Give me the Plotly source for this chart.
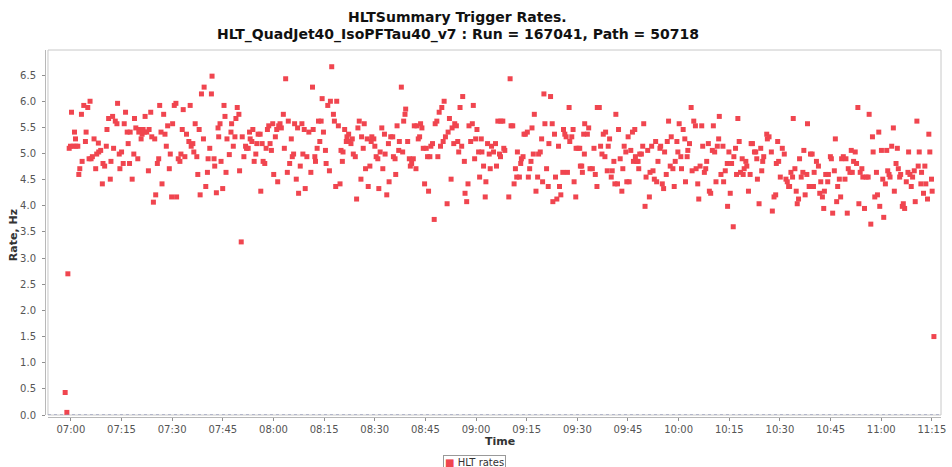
import pandas as pd
import plotly.graph_objects as go

RUN_START = pd.Timestamp("2011-06-02 07:00:00")

# Minutes after 07:00 for each lumi-section sample
MINUTES = [
    -1.68, -1.18, -0.88,
    -0.49, -0.10, 0.20, 0.69, 1.08, 1.37, 1.47, 2.06, 2.36, 2.65, 3.14, 3.34, 3.83, 4.32, 4.52, 5.01,
    5.40, 5.69, 5.99, 6.38, 6.87, 7.36, 7.66, 8.15, 8.25, 8.84, 9.33, 9.52, 10.01, 10.50, 10.70, 11.19,
    11.68, 11.88, 12.37, 12.66, 13.16, 13.65, 13.84, 14.33, 14.53, 15.02, 15.51, 15.81, 16.20, 16.69,
    16.98, 17.38, 17.57, 18.16, 18.65, 18.85, 19.24, 19.83, 20.13, 20.32, 20.81, 21.11, 21.40, 21.80,
    21.99, 22.48, 22.97, 23.17, 23.66, 23.96, 24.45, 24.84, 25.13, 25.62, 26.02, 26.31, 26.70, 27.00,
    27.49, 27.88, 28.27, 28.67, 29.16, 29.45, 29.85, 30.14, 30.63, 31.12, 31.32, 31.81, 32.30, 32.60,
    32.99, 33.28, 33.77, 34.26, 34.95, 35.34, 35.64, 36.13, 36.42, 36.82, 37.31, 37.60, 38.00, 38.29,
    38.68, 39.27, 39.47, 39.96, 40.45, 40.65, 41.14, 41.63, 41.82, 42.41, 42.61, 43.10, 43.59, 43.79,
    44.18, 44.48, 44.97, 45.36, 45.65, 45.95, 46.24,
    46.93, 47.42, 47.61, 48.11, 48.60, 48.89, 49.28, 49.77, 49.97, 50.46, 50.76, 51.25, 51.74, 52.03,
    52.52, 52.92, 53.11, 53.60, 53.90, 54.29, 54.78, 55.08, 55.47, 56.06, 56.25, 56.65, 56.94, 57.43,
    57.83, 58.22, 58.61, 59.00, 59.40, 59.79, 60.08, 60.57, 60.97, 61.26, 61.56, 61.95, 62.34, 62.93,
    63.23, 63.62, 64.11, 64.40, 64.80, 65.29, 65.58, 65.97, 66.27, 66.76, 67.15, 67.45, 67.94, 68.43,
    68.72, 69.12, 69.41, 69.90, 70.49, 71.08, 71.57, 71.77, 72.26, 72.45, 72.94, 73.34, 73.73, 74.12,
    74.42, 74.81, 75.40, 75.60, 76.09, 76.58, 76.87, 77.26, 77.76, 78.05, 78.44, 78.74, 79.23, 79.72,
    80.01, 80.41, 80.60, 81.09, 81.58, 81.78, 82.27, 82.37, 82.96, 83.35, 83.65, 84.24, 84.63, 85.02,
    85.41, 85.91, 86.10, 86.59, 86.89, 87.28, 87.77, 88.07, 88.56, 88.95, 89.14, 89.73, 90.03, 90.42,
    90.91, 91.21, 91.60, 92.09, 92.39, 92.88, 93.07, 93.56, 94.05, 94.25, 94.74, 95.33, 95.53, 96.02,
    96.21, 96.61, 97.10, 97.29, 97.88, 98.27, 98.57, 98.96, 99.16,
    99.75, 100.24, 100.54, 100.93, 101.42, 101.71, 102.21, 102.50, 102.89, 103.29, 103.58, 103.97,
    104.37, 104.76, 105.25, 105.64, 105.94, 106.33, 106.62, 107.11, 107.61, 107.90, 108.39, 108.69,
    109.08, 109.47, 109.86, 110.26, 110.55, 110.94, 111.43, 111.73, 112.12, 112.61, 112.91, 113.40,
    113.69, 114.18, 114.58, 114.87, 115.26, 115.75, 116.05, 116.54, 116.74, 117.23, 117.62, 117.91,
    118.41, 118.90, 119.19, 119.58, 119.88, 120.27, 120.76, 121.06, 121.55, 121.74, 122.23, 122.72,
    122.92, 123.41, 123.90, 124.20, 124.59, 125.18, 125.77, 126.06, 126.46, 126.95, 127.24, 127.34,
    127.93, 128.22, 128.52, 129.70, 130.09, 130.38, 130.87, 131.27, 131.66, 132.05, 132.25, 132.84,
    133.23, 133.43, 133.92, 134.21, 134.60, 135.19, 135.49, 135.88, 136.27, 136.57, 136.96, 137.26,
    137.75, 138.24, 138.53, 139.02, 139.42, 139.71, 140.10, 140.40, 140.89, 141.38, 141.58, 142.07,
    142.56, 142.75, 143.24, 143.54, 143.93, 144.42, 144.72, 145.11, 145.70, 145.90, 146.29, 146.68,
    147.07, 147.56, 147.76, 148.35, 148.74, 149.04, 149.53, 149.63, 150.22, 150.71, 150.90, 151.30,
    151.49, 151.88, 152.08, 152.18,
    152.97, 153.36, 153.75, 154.44, 154.93, 155.32, 155.81, 155.91, 156.50, 156.89, 157.29, 157.68,
    158.17, 158.37, 158.86, 159.15, 159.55, 160.04, 160.33, 160.82, 161.12, 161.41, 161.90, 162.20,
    162.69, 163.18, 163.47, 163.87, 164.36, 164.65, 165.04, 165.34, 165.83, 166.32, 166.61, 167.01,
    167.20, 167.60, 167.99, 168.19, 168.48, 168.97, 169.36, 169.66, 170.05, 170.35, 170.84, 171.33,
    171.52, 172.01, 172.41, 172.80, 173.19, 173.49, 173.88, 174.47, 174.67, 175.16, 175.55, 175.84,
    176.33, 176.63, 177.02, 177.51, 177.81, 178.30, 178.69, 178.99, 179.48, 179.77, 180.16, 180.65,
    180.85, 181.34, 181.83, 182.03, 182.52, 182.72, 183.21, 183.70, 183.99, 184.48, 184.97, 185.17,
    185.66, 185.96, 186.35, 186.84, 187.13, 187.62, 188.02, 188.31, 188.80, 189.10, 189.49, 189.98,
    190.28, 190.67, 191.06, 191.45, 191.85, 192.04, 192.53, 193.12, 193.32, 193.81, 194.40, 194.50,
    194.89, 195.28, 195.68, 196.17, 196.36, 196.85, 197.15, 197.54, 197.93, 198.33, 198.82, 199.11,
    199.41, 199.90, 200.19, 200.68, 201.17, 201.47, 201.86, 202.45, 202.84, 203.14, 203.33, 203.82,
    204.31, 204.61, 204.90, 205.20,
    206.09, 206.28, 206.77, 207.46, 207.75, 208.25, 208.74, 208.93, 209.33, 209.62, 210.11, 210.70,
    211.29, 211.78, 212.17, 212.57, 212.86, 213.25, 213.74, 213.94, 214.43, 214.82, 215.12, 215.51,
    215.81, 216.30, 216.79, 217.08, 217.47, 217.97, 218.16, 218.65, 219.05, 219.54, 219.93, 220.13,
    220.81, 221.40, 221.79, 222.09, 222.58, 222.97, 223.17, 223.56, 224.15, 224.35, 224.94, 225.23,
    225.62, 226.11, 226.41, 226.80, 227.10, 227.59, 227.98, 228.27, 228.77, 229.26, 229.55, 229.94,
    230.24, 230.73, 231.12, 231.42, 231.81, 232.30, 232.69, 233.08, 233.38, 233.77, 234.26, 234.56,
    235.05, 235.54, 236.13, 236.42, 236.91, 237.40, 237.60, 238.09, 238.58, 238.88, 239.27, 239.56,
    240.06, 240.45, 240.74, 241.23, 241.63, 241.92, 242.31, 242.61, 243.10, 243.59, 243.88, 244.38,
    244.77, 245.06, 245.46, 245.75, 246.24, 246.54, 246.93, 247.42, 247.91, 248.11, 248.50, 248.89,
    249.29, 249.78, 250.07, 250.56, 250.95, 251.25, 251.74, 251.94, 252.52, 252.92, 253.21, 253.70,
    254.10, 254.39, 254.88, 255.08, 255.60,
]

# Trigger rate per sample, Hz
RATE_HZ = [
    0.43, 0.05, 2.70,
    5.10, 5.14, 5.79, 5.14, 5.41, 5.28, 5.14, 5.14, 4.60, 4.71, 5.75, 4.85, 5.92, 5.23, 5.41, 5.88,
    4.90, 6.00, 4.90, 4.94, 5.28, 4.71, 4.99, 5.20, 5.03, 5.06, 4.42, 4.81, 4.76, 5.14, 5.46, 5.67,
    4.51, 4.85, 5.71, 5.10, 5.62, 5.57, 5.96, 4.99, 4.71, 5.03, 4.81, 5.57, 5.79, 5.41,
    5.19, 4.81, 5.41, 4.51, 4.99, 5.67, 5.49, 4.90, 5.41, 5.46, 5.28, 5.37, 5.46, 5.41,
    5.71, 5.41, 4.67, 5.46, 5.79, 5.32, 4.07, 5.28, 4.21, 4.81, 4.90, 5.92, 5.41, 4.42,
    5.75, 5.37, 5.14, 5.53, 4.71, 4.99, 4.17, 5.57, 5.92, 5.96, 4.17, 4.90, 4.85, 4.99,
    5.46, 5.84, 4.94, 5.37, 5.23, 5.92, 5.14, 5.19, 5.03, 5.57, 4.94, 4.60, 5.46, 4.21,
    6.14, 5.28, 6.27, 4.37, 4.64, 4.90, 5.10, 6.14, 6.48, 4.90, 4.76, 4.25, 5.49, 5.32,
    5.57, 4.85, 4.33, 5.92, 5.71, 4.64, 5.28,
    4.98, 5.41, 5.57, 5.14, 5.32, 5.67, 5.88, 5.75, 4.67, 3.31, 5.32, 4.94, 5.14, 5.10,
    5.10, 5.41, 5.28, 5.23, 5.46, 4.85, 4.99, 5.19, 5.37, 5.37, 4.28, 5.19, 4.85, 4.81,
    5.10, 5.46, 5.53, 5.19, 5.06, 5.57, 4.60, 5.32, 5.46, 4.46, 5.53, 5.57, 5.49, 5.75,
    5.10, 6.43, 4.64, 5.62, 4.81, 5.28, 4.94, 4.99, 5.57, 4.51, 5.49, 4.24, 4.76, 5.57,
    4.99, 5.46, 4.33, 4.94, 5.41, 4.64, 6.27, 5.46, 4.94, 4.85, 5.10, 5.62, 5.23, 5.62,
    6.05, 5.41, 5.06, 4.81, 5.92, 4.67, 6.00, 6.66, 5.75, 5.62, 4.37, 6.00, 5.53, 4.42,
    5.06, 4.85, 5.03, 5.46, 5.23, 5.32, 5.37, 5.23, 5.19, 5.28, 4.99, 4.94, 4.13, 5.49,
    5.62, 4.51, 5.32, 5.10, 5.57, 4.71, 5.28, 4.37, 4.76, 5.23, 5.32, 5.28, 5.14, 4.94,
    4.90, 4.33, 5.03, 5.49, 4.71, 5.37, 4.99, 4.21, 5.19, 4.46, 5.32, 5.32, 4.94, 4.90,
    4.60, 5.53, 5.06, 5.23, 6.27, 5.03, 5.62, 5.75, 5.85,
    5.23, 4.90, 4.76, 4.81, 4.90, 5.53, 4.71, 5.53, 5.28, 5.32, 5.57, 5.49,
    5.10, 4.42, 5.10, 4.94, 4.28, 4.94, 5.14, 5.19, 3.74, 5.57, 5.62, 4.94,
    5.79, 5.14, 5.88, 5.23, 6.00, 5.32, 4.04, 5.41, 5.67, 4.51, 5.49, 5.19,
    5.57, 5.53, 5.23, 5.03, 5.88, 5.14, 6.09, 4.85, 4.24, 4.08, 4.42, 5.53,
    5.23, 5.57, 5.92, 4.90, 5.28, 5.46, 5.03, 4.55, 5.28, 5.03, 4.76, 4.17,
    4.46, 5.19, 4.99, 4.71, 5.14, 5.03, 5.19, 4.76, 5.62, 4.99, 4.94, 5.62,
    5.62, 5.10, 5.06, 4.17, 6.43, 5.53, 5.53, 4.42, 4.71, 4.55, 5.03, 4.55,
    4.81, 4.90, 4.94, 5.37, 5.37, 5.41, 4.55, 4.71, 4.85, 5.49, 4.99, 5.75,
    4.28, 4.55, 4.99, 5.03, 5.28, 4.46, 6.14, 5.57, 4.71, 4.37, 5.19, 6.09,
    5.57, 4.08, 5.37, 4.55, 4.13, 5.14, 4.37, 4.21, 4.64, 5.46, 5.37, 5.32,
    4.64, 5.88, 5.23, 5.32, 5.46, 4.46, 4.17, 5.10, 5.10, 5.10, 4.76, 4.76,
    4.64, 5.37, 4.99, 5.57,
    5.37, 5.49, 4.71, 4.71, 5.10, 4.60, 4.37, 5.88, 5.88, 5.14, 4.99, 5.37,
    4.94, 5.41, 4.67, 5.14, 5.28, 4.55, 4.67, 4.85, 4.42, 5.75, 4.42, 5.46,
    4.90, 4.28, 4.71, 5.14, 5.03, 4.46, 5.32, 4.46, 5.06, 5.41, 4.85, 5.46,
    4.94, 4.85, 4.85, 4.71, 4.99, 4.99, 5.14, 5.57, 3.99, 4.55, 5.06, 4.17,
    4.64, 5.14, 4.67, 4.51, 5.23, 4.46, 4.85, 5.10, 5.14, 4.42, 4.33, 5.03,
    4.60, 5.23, 5.62, 4.76, 5.32, 4.71, 4.37, 4.85, 5.23, 5.03, 5.57, 4.94,
    4.71, 5.46, 5.28, 4.46, 4.94, 5.06, 5.19, 5.88, 4.67, 5.62, 5.53, 4.71,
    4.42, 4.13, 4.76, 5.53, 5.14, 4.64, 4.71, 4.85, 5.19, 4.28, 4.24, 5.06,
    5.53, 5.03, 4.46, 5.14, 5.28, 5.71, 4.60, 5.14, 4.46, 4.67, 4.81, 3.99,
    5.03, 4.24, 4.81, 3.60, 4.94, 5.10, 4.60, 5.67, 5.23, 4.64, 4.90, 4.60,
    4.71, 4.85, 4.76, 4.28, 4.60, 5.19, 5.19, 5.03, 5.03, 4.90, 4.51, 4.04,
    5.10, 4.67, 4.85, 4.94,
    5.37, 5.28, 5.32, 5.03, 3.90, 4.17, 4.21, 4.81, 5.23, 4.85, 4.55, 5.10,
    4.99, 4.51, 4.46, 4.37, 4.37, 4.64, 4.55, 5.67, 4.71, 4.28, 4.04, 4.13,
    4.90, 4.55, 4.64, 5.06, 4.21, 4.60, 5.57, 4.37, 4.99, 4.99, 4.37, 4.64,
    4.85, 4.76, 4.24, 4.46, 4.17, 3.95, 4.28, 4.60, 4.46, 4.60, 4.94, 4.90,
    3.86, 4.67, 5.28, 4.08, 4.37, 4.51, 4.17, 4.90, 4.94, 4.51, 4.90, 3.86,
    4.71, 4.64, 5.06, 4.64, 4.85, 5.03, 4.81, 5.88, 4.04, 4.64, 4.71, 4.55,
    3.95, 4.55, 4.55, 5.75, 3.65, 5.32, 5.03, 4.17, 4.64, 4.21, 5.41, 3.99,
    5.06, 4.51, 3.78, 4.42, 5.06, 4.67, 4.60, 4.55, 5.14, 5.49, 4.28, 4.81,
    5.10, 4.71, 4.55, 4.60, 3.99, 4.04, 3.95, 4.46, 4.64, 5.03, 4.60, 4.37,
    4.55, 4.67, 4.08, 5.62, 4.76, 5.03, 4.42, 4.64, 4.24, 4.76, 4.42, 4.13,
    5.37, 5.03, 4.51, 4.28, 1.50,
]

TITLE_LINES = [
    "HLTSummary Trigger Rates.",
    "HLT_QuadJet40_IsoPFTau40_v7 : Run = 167041, Path = 50718",
]
SERIES_NAME = "HLT rates"
Y_TICKS = [0.0, 0.5, 1.0, 1.5, 2.0, 2.5, 3.0, 3.5, 4.0, 4.5, 5.0, 5.5, 6.0, 6.5]

MARKER_RED = "#f0454f"
FONT = "DejaVu Sans"

times = RUN_START + pd.to_timedelta(MINUTES, unit="min")

fig = go.Figure()
fig.add_trace(go.Scatter(
    x=times, y=RATE_HZ, mode="markers", name=SERIES_NAME,
    marker=dict(symbol="square", size=5, color=MARKER_RED, line=dict(width=0)),
    cliponaxis=False, showlegend=False,
))

x_lo = RUN_START - pd.Timedelta(minutes=6.77)
x_hi = RUN_START + pd.Timedelta(minutes=257.7)

fig.update_layout(
    width=952, height=467,
    margin=dict(l=45, r=6, t=50, b=50),
    paper_bgcolor="white", plot_bgcolor="white",
    font=dict(family=FONT, size=10, color="#555555"),
    xaxis=dict(
        domain=[3 / 901, 1], anchor="free", position=0,
        range=[x_lo, x_hi], type="date",
        tick0=RUN_START, dtick=15 * 60 * 1000, tickformat="%H:%M",
        showgrid=False, zeroline=False,
        showline=True, linecolor="#b8b8b8", linewidth=1,
        ticks="outside", ticklen=3, tickcolor="#909090",
        tickfont=dict(size=10, color="#555555"),
    ),
    yaxis=dict(
        domain=[2 / 367, 1], anchor="free", position=0,
        range=[0, 6.98], tickvals=Y_TICKS, ticktext=[f"{v:.1f}" for v in Y_TICKS],
        showgrid=False, zeroline=False,
        showline=True, linecolor="#b8b8b8", linewidth=1,
        ticks="outside", ticklen=3, tickcolor="#909090",
        tickfont=dict(size=10, color="#555555"),
        ticklabelstandoff=4,
    ),
)

# plot outline and zero reference line
fig.add_shape(type="rect", xref="x domain", yref="y domain", x0=0, x1=1, y0=0, y1=1,
              line=dict(color="#c8c8c8", width=1), layer="below")
fig.add_shape(type="line", xref="x domain", yref="y", x0=0, x1=1, y0=0, y1=0,
              line=dict(color="#8088b0", width=1, dash="dot"))

# two-line bold title
fig.add_annotation(text=f"<b>{TITLE_LINES[0]}</b>", xref="paper", yref="paper",
                   x=(460 - 45) / 901, y=1 + 33 / 367, xanchor="center", yanchor="middle",
                   showarrow=False, font=dict(family=FONT, size=14, color="#111111"))
fig.add_annotation(text=f"<b>{TITLE_LINES[1]}</b>", xref="paper", yref="paper",
                   x=(460 - 45) / 901, y=1 + 15 / 367, xanchor="center", yanchor="middle",
                   showarrow=False, font=dict(family=FONT, size=14, color="#111111"))

# axis titles
fig.add_annotation(text="<b>Rate, Hz</b>", xref="paper", yref="paper",
                   x=-32 / 901, y=(417 - 235) / 367, textangle=-90,
                   xanchor="center", yanchor="middle", showarrow=False,
                   font=dict(family=FONT, size=11, color="#333333"))
fig.add_annotation(text="<b>Time</b>", xref="paper", yref="paper",
                   x=(503 - 45) / 901, y=-(441 - 417) / 367,
                   xanchor="center", yanchor="middle", showarrow=False,
                   font=dict(family=FONT, size=11, color="#333333"))

# legend box
fig.add_annotation(text=f"<span style='color:{MARKER_RED}'>■</span> {SERIES_NAME}",
                   xref="paper", yref="paper",
                   x=(477 - 45) / 901, y=-(455 - 417) / 367,
                   xanchor="center", yanchor="top", showarrow=False,
                   bordercolor="#999999", borderwidth=1, borderpad=1, bgcolor="white",
                   font=dict(family=FONT, size=10, color="#333333"))

fig.write_html("out.html")
